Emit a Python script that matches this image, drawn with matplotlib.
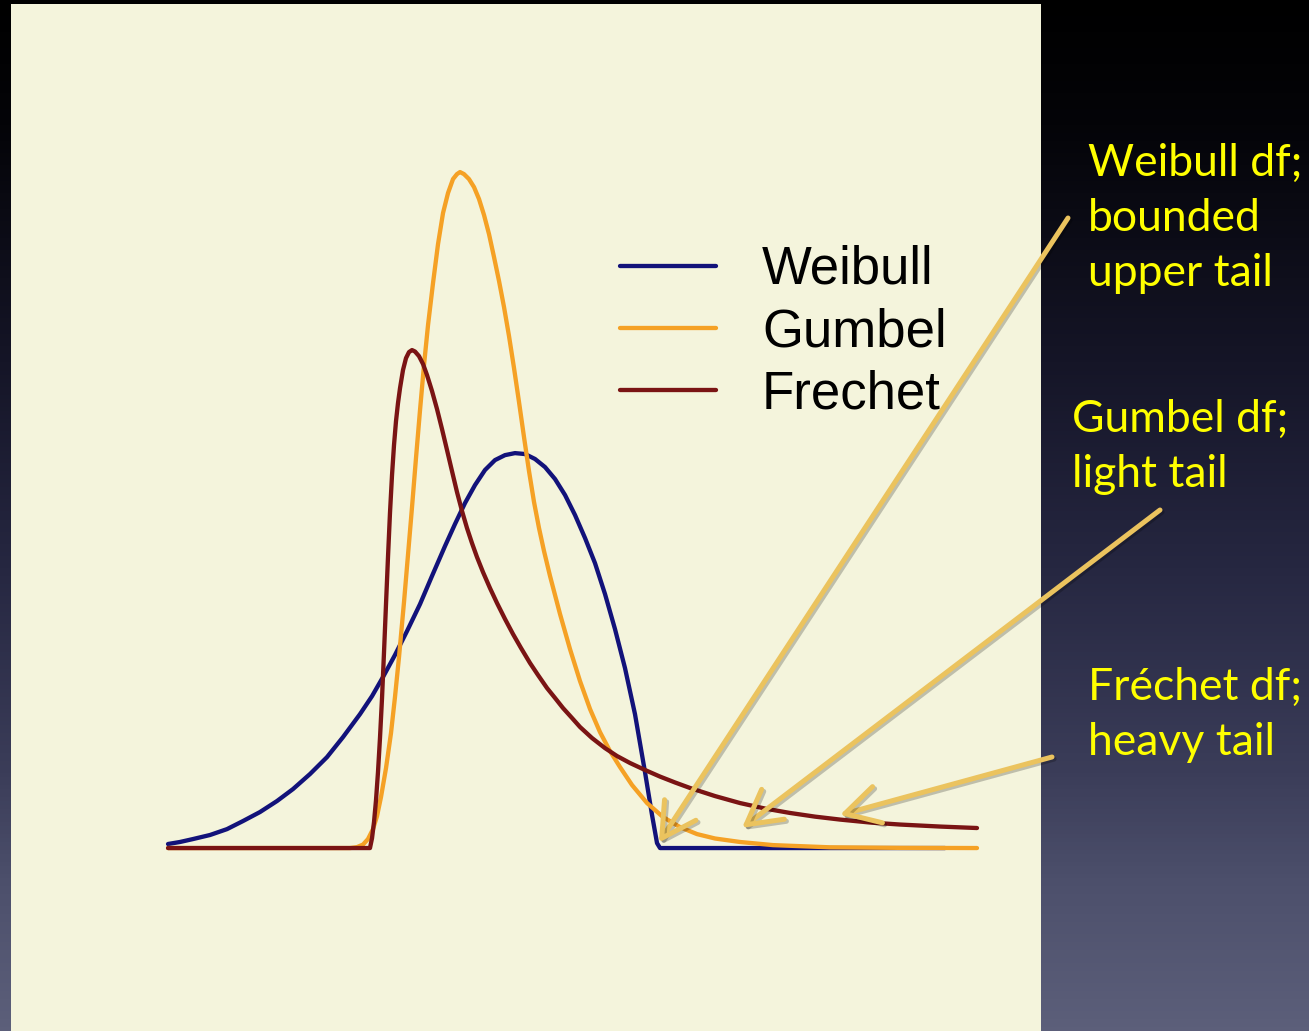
import matplotlib

matplotlib.use("Agg")
import matplotlib.pyplot as plt
import numpy as np
from matplotlib import patheffects
from matplotlib.colors import LinearSegmentedColormap

# Densities; x in Gumbel scale units, y = density
weibull_x = [-5.725, -5.49, -5.235, -4.902, -4.569, -4.255, -3.922, -3.588,
             -3.275, -2.941, -2.608, -2.294, -1.961, -1.725, -1.51, -1.275,
             -1.039, -0.784, -0.549, -0.294, -0.098, 0.098, 0.294, 0.49,
             0.686, 0.882, 1.078, 1.275, 1.471, 1.667, 1.863, 2.059, 2.255,
             2.451, 2.647, 2.843, 3.039, 3.235, 3.431, 3.627, 3.765, 3.863,
             3.922, 9.51]
weibull_y = [0.0022, 0.0033, 0.0049, 0.0071, 0.0103, 0.0147, 0.0196, 0.0256,
             0.0321, 0.0403, 0.0495, 0.0604, 0.0729, 0.0827, 0.0931, 0.1051,
             0.1181, 0.1328, 0.1481, 0.1644, 0.1764, 0.1878, 0.1976, 0.2058,
             0.2112, 0.2139, 0.215, 0.2145, 0.2118, 0.2074, 0.2009, 0.1922,
             0.1813, 0.1688, 0.1551, 0.1383, 0.1192, 0.098, 0.0729, 0.0414,
             0.018, 0.0027, 0.0, 0.0]

gumbel_x = [-5.725, -2.157, -2.02, -1.902, -1.804, -1.706, -1.627, -1.549,
            -1.451, -1.353, -1.275, -1.196, -1.098, -1.02, -0.941, -0.863,
            -0.784, -0.706, -0.627, -0.529, -0.431, -0.333, -0.235, -0.137,
            -0.059, 0.0, 0.078, 0.176, 0.275, 0.373, 0.471, 0.569, 0.667,
            0.765, 0.863, 0.961, 1.059, 1.157, 1.255, 1.353, 1.451, 1.549,
            1.647, 1.765, 1.961, 2.157, 2.353, 2.549, 2.745, 2.941, 3.137,
            3.373, 3.667, 3.98, 4.314, 4.647, 5.0, 5.49, 6.137, 7.255, 8.627,
            10.137]
gumbel_y = [0.0, 0.0, 0.0005, 0.0019, 0.0049, 0.0103, 0.0174, 0.0278, 0.0435,
            0.0626, 0.0822, 0.104, 0.1339, 0.1595, 0.1856, 0.2123, 0.2384,
            0.2629, 0.2847, 0.3076, 0.3288, 0.3457, 0.3566, 0.3642, 0.3669,
            0.368, 0.3669, 0.3642, 0.3598, 0.3533, 0.3446, 0.3342, 0.3217,
            0.3087, 0.2945, 0.2787, 0.2613, 0.2428, 0.2237, 0.2052, 0.1884,
            0.1742, 0.1617, 0.1481, 0.1274, 0.1083, 0.0909, 0.0757, 0.0631,
            0.0528, 0.0441, 0.0343, 0.0245, 0.0169, 0.0114, 0.0076, 0.0052,
            0.0033, 0.0016, 0.0004, 0.0001, 0.0]

frechet_x = [-5.725, -1.765, -1.725, -1.686, -1.647, -1.608, -1.569, -1.529,
             -1.49, -1.451, -1.412, -1.373, -1.333, -1.294, -1.255, -1.216,
             -1.176, -1.118, -1.059, -1.0, -0.941, -0.882, -0.804, -0.725,
             -0.647, -0.549, -0.451, -0.353, -0.255, -0.157, -0.059, 0.039,
             0.137, 0.235, 0.333, 0.451, 0.588, 0.725, 0.882, 1.039, 1.196,
             1.373, 1.529, 1.706, 1.863, 2.02, 2.196, 2.353, 2.588, 2.843,
             3.078, 3.333, 3.627, 3.922, 4.216, 4.51, 5.0, 5.49, 5.98, 6.471,
             6.961, 7.451, 8.039, 8.627, 9.412, 10.137]
frechet_y = [0.0, 0.0, 0.0054, 0.0142, 0.0261, 0.0414, 0.0599, 0.0817, 0.1067,
             0.1328, 0.1584, 0.1824, 0.2031, 0.2194, 0.2324, 0.2422, 0.2504,
             0.2602, 0.2667, 0.27, 0.2711, 0.2703, 0.2678, 0.2635, 0.2575,
             0.2488, 0.239, 0.2281, 0.2167, 0.2052, 0.1938, 0.1835, 0.1742,
             0.166, 0.1584, 0.1502, 0.1415, 0.1334, 0.1247, 0.1165, 0.1089,
             0.1007, 0.0942, 0.0871, 0.0817, 0.0762, 0.0708, 0.0659, 0.0599,
             0.0544, 0.0501, 0.0463, 0.0425, 0.0389, 0.0357, 0.0327, 0.0283,
             0.0245, 0.0215, 0.0191, 0.0171, 0.0155, 0.0139, 0.0128, 0.0117,
             0.0109]

labels = ["Weibull", "Gumbel", "Frechet"]
colors = ["#12127a", "#f5a125", "#7a1414"]

notes = [
    "Weibull df;\nbounded\nupper tail",
    "Gumbel df;\nlight tail",
    "Fréchet df;\nheavy tail",
]

W, H = 1309, 1031


def draw_background(fig):
    bg = fig.add_axes([0, 0, 1, 1], zorder=0)
    bg.axis("off")
    cmap = LinearSegmentedColormap.from_list(
        "slide",
        [(0.0, "#000000"), (0.12, "#040408"), (0.35, "#151527"),
         (0.55, "#262741"), (0.75, "#3b3d59"), (0.86, "#4d506c"),
         (1.0, "#5c5f7a")],
    )
    grad = np.linspace(0, 1, 256).reshape(-1, 1)
    bg.imshow(grad, cmap=cmap, aspect="auto", extent=[0, 1, 1, 0])
    bg.set_xlim(0, 1)
    bg.set_ylim(1, 0)


def main():
    fig = plt.figure(figsize=(W / 100, H / 100), dpi=100)
    draw_background(fig)

    ax = fig.add_axes([11 / W, 0, 1030 / W, 1027 / H], zorder=1)
    ax.set_facecolor("#f4f4dc")
    for s in ax.spines.values():
        s.set_visible(False)
    ax.set_xticks([])
    ax.set_yticks([])

    series = [(weibull_x, weibull_y), (gumbel_x, gumbel_y), (frechet_x, frechet_y)]
    for (xs, ys), lab, c in zip(series, labels, colors):
        ax.plot(xs, ys, color=c, lw=3.1, label=lab,
                solid_joinstyle="round", solid_capstyle="round")

    ax.set_xlim(-8.804, 11.392)
    ax.set_ylim(-0.0996, 0.4595)

    ax.legend(
        loc="upper left",
        bbox_to_anchor=(620 / W, 1 - 245 / H),
        bbox_transform=fig.transFigure,
        frameon=False,
        prop={"family": "Liberation Sans", "size": 38},
        handlelength=1.82,
        handletextpad=0.87,
        labelspacing=0.23,
        borderpad=0,
        borderaxespad=0,
    )

    # yellow notes on the dark side of the slide
    spots = [(1088, 143), (1072, 399), (1088, 667)]
    for txt, (px, py) in zip(notes, spots):
        fig.text(px / W, 1 - py / H, txt, color="#ffff00", fontsize=32,
                 family="Lato", ha="left", va="top", linespacing=1.43,
                 zorder=3)

    # arrows from the notes to the tails
    targets = [(3.90, 0.003), (5.53, 0.011), (7.45, 0.018)]
    starts = [(1068, 218), (1160, 510), (1052, 757)]
    shadow = [patheffects.SimpleLineShadow(offset=(1.5, -1.5), alpha=0.22),
              patheffects.Normal()]
    for tgt, (sx, sy) in zip(targets, starts):
        ax.annotate(
            "",
            xy=tgt,
            xycoords="data",
            xytext=(sx, H - sy),
            textcoords="figure pixels",
            arrowprops=dict(
                arrowstyle="->,head_length=0.9,head_width=0.5",
                color="#ebc35e",
                lw=3.6,
                mutation_scale=27,
                shrinkA=0,
                shrinkB=0,
                path_effects=shadow,
            ),
            annotation_clip=False,
            zorder=4,
        )

    fig.savefig("out.png", dpi=100)


if __name__ == "__main__":
    main()
